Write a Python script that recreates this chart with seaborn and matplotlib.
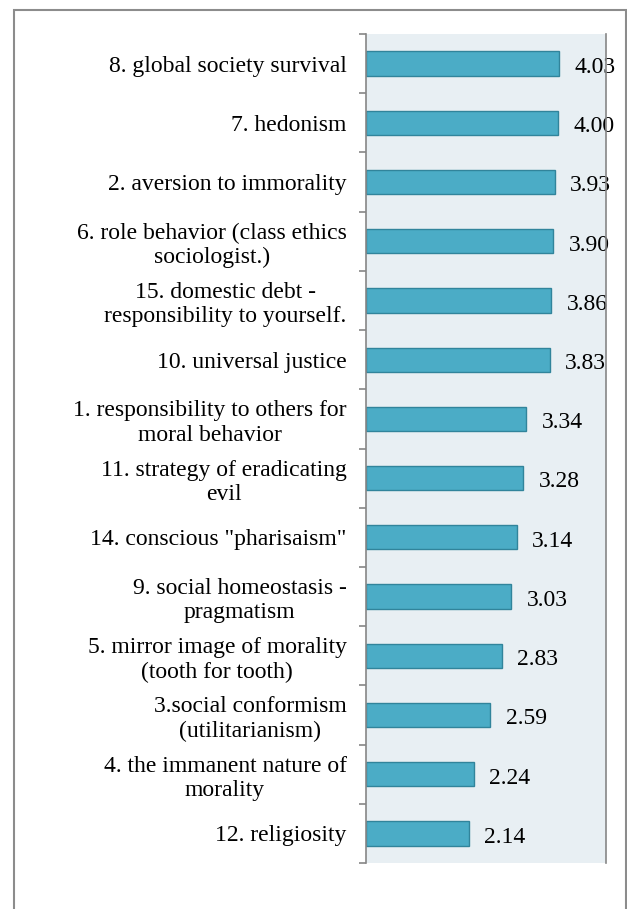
import matplotlib
matplotlib.use("Agg")
import matplotlib.pyplot as plt
from matplotlib.patches import Rectangle
import seaborn as sns
import pandas as pd
import numpy as np

categories = [
    "8. global society survival",
    "7. hedonism",
    "2. aversion to immorality",
    "6. role behavior (class ethics\nsociologist.)",
    "15. domestic debt -\nresponsibility to yourself.",
    "10. universal justice",
    "1. responsibility to others for\nmoral behavior",
    "11. strategy of eradicating\nevil",
    "14. conscious \"pharisaism\"",
    "9. social homeostasis -\npragmatism",
    "5. mirror image of morality\n(tooth for tooth)",
    "3.social conformism\n(utilitarianism)",
    "4. the immanent nature of\nmorality",
    "12. religiosity",
]
scores = [4.03, 4.00, 3.93, 3.90, 3.86, 3.83, 3.34, 3.28, 3.14, 3.03, 2.83, 2.59, 2.24, 2.14]
value_labels = ["4.03", "4.00", "3.93", "3.90", "3.86", "3.83", "3.34", "3.28",
                "3.14", "3.03", "2.83", "2.59", "2.24", "2.14"]

df = pd.DataFrame({"category": categories, "score": scores})

sns.set_theme(style="white")
plt.rcParams["font.family"] = ["Liberation Serif", "DejaVu Serif"]

W, H = 627, 909
FS = 17
fig = plt.figure(figsize=(W / 100, H / 100), dpi=100)
ax = fig.add_axes([366 / W, 1 - 863 / H, (606 - 366) / W, (863 - 34) / H])
ax.set_facecolor("#E8EFF3")

sns.barplot(data=df, x="score", y="category", orient="h", ax=ax,
            color="#4BACC6", edgecolor="#31849B", linewidth=1.0,
            width=0.41, saturation=1)

ax.set_xlim(0, 5)
ax.set_ylim(len(categories) - 0.5, -0.5)
ax.set_xlabel("")
ax.set_ylabel("")
ax.set_xticks([])

# category labels at bar centers, tick marks at category boundaries
ax.set_yticks(np.arange(len(categories)))
ax.set_yticklabels(categories, fontsize=FS, color="black")
for lbl in ax.get_yticklabels():
    lbl.set_multialignment("center")
    lbl.set_linespacing(1.2)
ax.tick_params(axis="y", which="major", length=0, pad=14)
ax.set_yticks(np.arange(len(categories) + 1) - 0.5, minor=True)
ax.tick_params(axis="y", which="minor", length=5, width=1.2,
               color="#868686", left=True)

for side in ["top", "bottom"]:
    ax.spines[side].set_visible(False)
for side in ["left", "right"]:
    ax.spines[side].set_visible(True)
    ax.spines[side].set_color("#868686")
    ax.spines[side].set_linewidth(1.2)
    ax.spines[side].set_zorder(5)

for i, (v, t) in enumerate(zip(scores, value_labels)):
    ax.annotate(t, xy=(v, i), xytext=(11, -1), textcoords="offset points",
                ha="left", va="center_baseline", fontsize=FS, color="black",
                annotation_clip=False)

# outer frame
fig.patches.append(Rectangle((14 / W, -0.01), (626 - 14) / W, 1 - 10 / H + 0.01,
                             transform=fig.transFigure, fill=False,
                             edgecolor="#8C8C8C", linewidth=1.5))

fig.savefig("out.png", dpi=100)
